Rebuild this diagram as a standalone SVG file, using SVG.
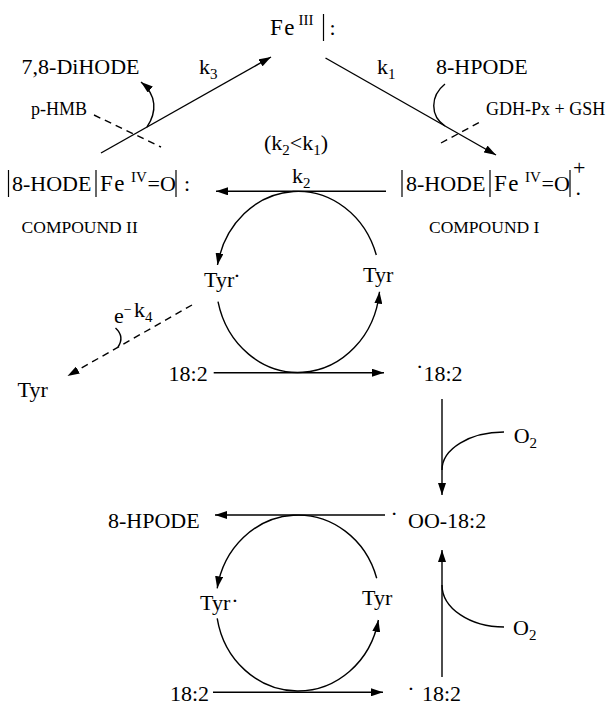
<svg xmlns="http://www.w3.org/2000/svg" width="615" height="706" viewBox="0 0 615 706">
<defs>
<marker id="ah" viewBox="0 0 12 8" refX="12" refY="4" markerWidth="12" markerHeight="8" markerUnits="userSpaceOnUse" orient="auto"><path d="M0,0 L12,4 L0,8 z" fill="#000"/></marker>
<style>
text{font-family:"Liberation Serif","Times New Roman",serif;font-size:22px;fill:#000}
.sub{font-size:15px}
.sm{font-size:18px}
.cmp{font-size:17.5px}
.fe{font-size:23px;letter-spacing:1.5px}
.ln{fill:none;stroke:#000;stroke-width:1.4}
.da{stroke-dasharray:7,5}
.bar{stroke:#000;stroke-width:1.2}
</style>
</defs>
<rect width="615" height="706" fill="#fff"/>
<g id="connectors">
<path class="ln" d="M101,153 L271,57" marker-end="url(#ah)"/>
<path class="ln" d="M325.5,58 L496,155" marker-end="url(#ah)"/>
<path class="ln" d="M386,191.3 L216,191.3" marker-end="url(#ah)"/>
<path class="ln" d="M213.7,372.7 L384,372.7" marker-end="url(#ah)"/>
<path class="ln" d="M442,399 L442,495" marker-end="url(#ah)"/>
<path class="ln" d="M385,515 L215,515" marker-end="url(#ah)"/>
<path class="ln" d="M213,692.3 L383,692.3" marker-end="url(#ah)"/>
<path class="ln" d="M442,677 L442,550" marker-end="url(#ah)"/>
<path class="ln da" d="M192,305 L67.5,376" marker-end="url(#ah)"/>
<path class="ln" d="M147,127 C157,112 157,95 141,82" marker-end="url(#ah)"/>
<path class="ln" d="M445,84 C430,96 430,116 445,126"/>
<path class="ln da" d="M94,115 L161,147"/>
<path class="ln da" d="M441,143 L480,122"/>
<path class="ln" d="M115.5,328 C122,334 122,341 118,347"/>
<path class="ln" d="M504,432 A62,38 0 0 0 442,470"/>
<path class="ln" d="M442,585 A62,42 0 0 0 504,627"/>
<path class="ln" d="M376.3,255 A82,90.7 0 0 0 217.5,265" marker-end="url(#ah)"/>
<path class="ln" d="M218,301.7 A82,90.7 0 0 0 379.5,291.7" marker-end="url(#ah)"/>
<path class="ln" d="M376.7,578.3 A82,88 0 0 0 217.2,588.3" marker-end="url(#ah)"/>
<path class="ln" d="M217.2,618.3 A82,88 0 0 0 378.4,620" marker-end="url(#ah)"/>
</g>
<g id="labels">
<text x="199" y="74">k<tspan class="sub" dy="5">3</tspan></text>
<text x="377" y="74">k<tspan class="sub" dy="5">1</tspan></text>
<text x="292" y="183">k<tspan class="sub" dy="5">2</tspan></text>
<text x="264" y="150">(k<tspan class="sub" dy="5">2</tspan><tspan dy="-5">&lt;k</tspan><tspan class="sub" dy="5">1</tspan><tspan dy="-5">)</tspan></text>
<text x="114" y="323">e<tspan font-size="14" dy="-9">−</tspan><tspan x="134" dy="3">k</tspan><tspan class="sub" dy="5">4</tspan></text>
</g>
<g id="fe3">
<text x="270" y="35"><tspan class="fe">Fe</tspan><tspan x="298.5" dy="-10" class="sub">III</tspan><tspan x="329.5" dy="10">:</tspan></text>
<line class="bar" x1="323.5" y1="14" x2="323.5" y2="41"/>
</g>
<g id="dihode"><text x="21.6" y="74">7,8-DiHODE</text></g>
<g id="phmb"><text x="31" y="115" class="sm">p-HMB</text></g>
<g id="hpode1"><text x="436" y="74">8-HPODE</text></g>
<g id="gdh"><text x="486" y="115" class="sm">GDH-Px + GSH</text></g>
<g id="compound2">
<line class="bar" x1="8.5" y1="170" x2="8.5" y2="197"/>
<line class="bar" x1="96" y1="170" x2="96" y2="197"/>
<line class="bar" x1="176" y1="170" x2="176" y2="197"/>
<text y="191"><tspan x="12">8-HODE</tspan><tspan x="100" class="fe">Fe</tspan><tspan x="131" dy="-9" class="sub">IV</tspan><tspan x="147.5" dy="9">=O</tspan><tspan x="184">:</tspan></text>
<text x="21.6" y="233" class="cmp">COMPOUND II</text>
</g>
<g id="compound1">
<line class="bar" x1="402" y1="170" x2="402" y2="197"/>
<line class="bar" x1="490" y1="170" x2="490" y2="197"/>
<line class="bar" x1="570" y1="170" x2="570" y2="197"/>
<text y="191"><tspan x="406">8-HODE</tspan><tspan x="494" class="fe">Fe</tspan><tspan x="525" dy="-9" class="sub">IV</tspan><tspan x="541.5" dy="9">=O</tspan></text>
<text x="573" y="175" font-size="13">+</text>
<text x="575.5" y="195" font-size="14">.</text>
<text x="429" y="233" class="cmp">COMPOUND I</text>
</g>
<g id="tyrrad1"><text x="204" y="287">Tyr<tspan dx="-1" dy="-4">·</tspan></text></g>
<g id="tyr1"><text x="363" y="282">Tyr</text></g>
<g id="tyr2"><text x="17.6" y="397">Tyr</text></g>
<g id="la1"><text x="168.6" y="381">18:2</text></g>
<g id="larad1"><text x="416" y="381"><tspan dy="-6.7">·</tspan><tspan x="423.5" dy="6.7">18:2</tspan></text></g>
<g id="o2a"><text x="513.7" y="443">O<tspan class="sub" dy="5">2</tspan></text></g>
<g id="hpode2"><text x="108" y="528">8-HPODE</text></g>
<g id="oo182"><text x="390.5" y="528"><tspan dy="-7">·</tspan><tspan x="408" dy="7">OO-18:2</tspan></text></g>
<g id="tyrrad2"><text x="200" y="610">Tyr<tspan dx="1" dy="-2.5">·</tspan></text></g>
<g id="tyr3"><text x="362" y="605">Tyr</text></g>
<g id="la2"><text x="170" y="701">18:2</text></g>
<g id="larad2"><text x="407.3" y="701"><tspan dy="-5">·</tspan><tspan x="422" dy="5">18:2</tspan></text></g>
<g id="o2b"><text x="513" y="635">O<tspan class="sub" dy="5">2</tspan></text></g>
</svg>
